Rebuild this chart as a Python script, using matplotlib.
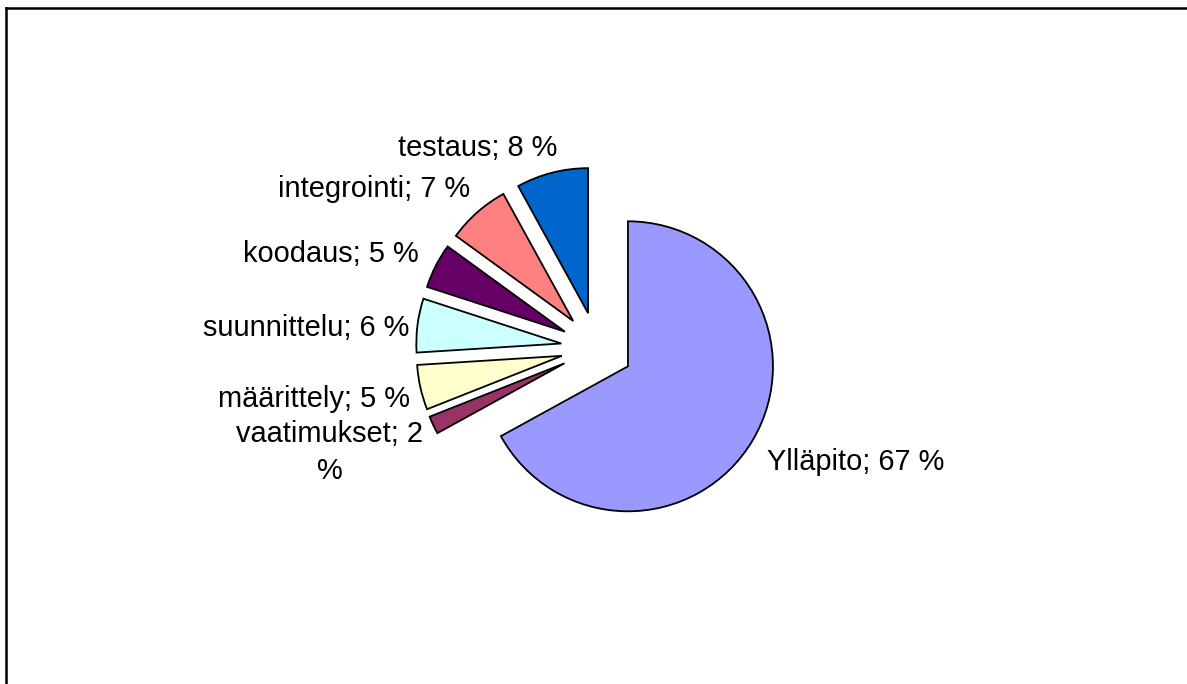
import matplotlib.pyplot as plt
from matplotlib.lines import Line2D

plt.rcParams['font.family'] = ['Liberation Sans', 'DejaVu Sans']

# Ohjelmiston elinkaaren kustannusten jakautuminen
vaiheet = ['Ylläpito', 'vaatimukset', 'määrittely', 'suunnittelu', 'koodaus', 'integrointi', 'testaus']
osuudet = [67, 2, 5, 6, 5, 7, 8]
varit = ['#9999FF', '#993366', '#FFFFCC', '#CCFFFF', '#660066', '#FF8080', '#0066CC']

labels = []
for v, o in zip(vaiheet, osuudet):
    if v == 'vaatimukset':
        labels.append(f'{v}; {o}\n%')
    else:
        labels.append(f'{v}; {o} %')

W, H = 1187, 684
fig = plt.figure(figsize=(W / 100, H / 100), dpi=100)
ax = fig.add_axes([0, 0, 1, 1])

wedges, texts = ax.pie(osuudet, labels=labels, colors=varit, startangle=90, counterclock=False,
                       explode=[0.248] * len(osuudet), labeldistance=1.1,
                       wedgeprops={'edgecolor': 'black', 'linewidth': 1.3},
                       textprops={'fontsize': 20.9, 'multialignment': 'center', 'linespacing': 1.39})

# pikselit -> datakoordinaatit (säde = 145 px, keskipiste (597, 348))
r = 145.0
ax.set_xlim(-597 / r, (W - 597) / r)
ax.set_ylim(-(H - 348) / r, 348 / r)
ax.axis('off')

# tekstien hienosäätö (px), Excelin sijoittelun mukaan
label_nudge = {'Ylläpito': (2, 15), 'vaatimukset': (3, 21), 'määrittely': (4, 8),
               'suunnittelu': (6, 4), 'koodaus': (-4, -5), 'integrointi': (2, -12),
               'testaus': (9, -11)}
for v, t in zip(vaiheet, texts):
    dx, dy = label_nudge[v]
    x, y = t.get_position()
    t.set_position((x + dx / r, y - dy / r))

# kehys (vain ylä- ja vasen reuna näkyvät)
fig.add_artist(Line2D([5.5 / W, 1.01], [1 - 7.8 / H, 1 - 7.8 / H], color='black', lw=1.8,
                      transform=fig.transFigure))
fig.add_artist(Line2D([5.5 / W, 5.5 / W], [-0.01, 1 - 7.8 / H], color='black', lw=1.8,
                      transform=fig.transFigure))

fig.savefig('out.png', dpi=100, facecolor='white')
